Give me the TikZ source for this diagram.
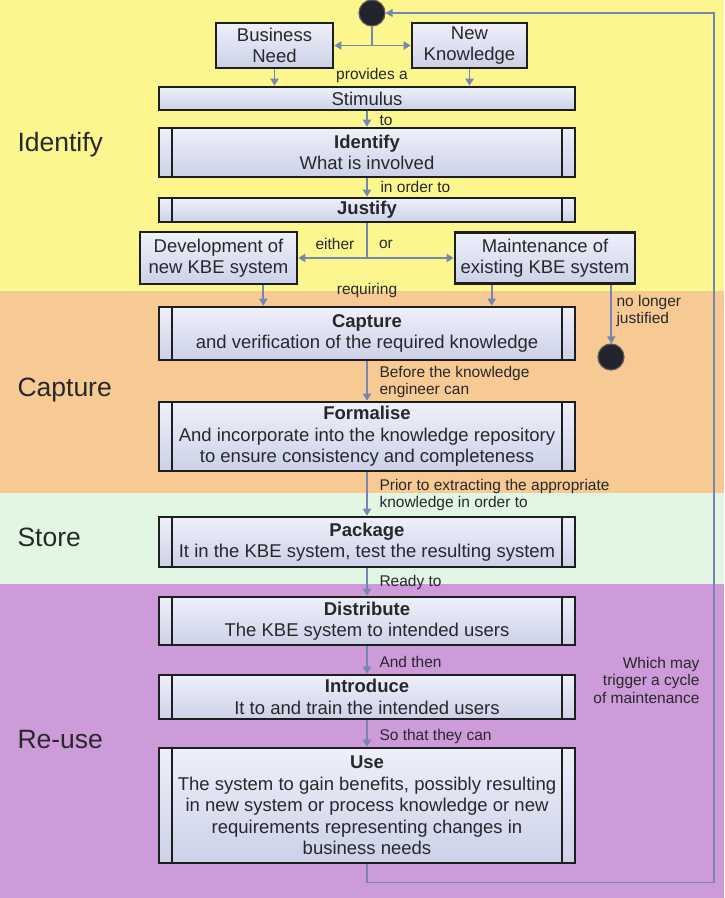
\documentclass[tikz,border=0pt]{standalone}
\usepackage{fontspec}
\setmainfont{Liberation Sans}
\usepackage{xcolor}
\usepackage{tikz}
\usetikzlibrary{arrows.meta}

\definecolor{bandyellow}{RGB}{251,246,142}
\definecolor{bandorange}{RGB}{247,202,148}
\definecolor{bandgreen}{RGB}{226,246,228}
\definecolor{bandpurple}{RGB}{205,155,217}
\definecolor{flowblue}{RGB}{118,134,178}
\definecolor{boxedge}{RGB}{30,30,32}
\definecolor{boxtop}{RGB}{238,240,250}
\definecolor{boxbot}{RGB}{204,209,231}
\definecolor{ink}{RGB}{40,40,44}
\definecolor{dotfill}{RGB}{35,35,45}

\begin{document}
\begin{tikzpicture}[x=1pt, y=-1pt, line width=0.4pt,
  act/.style={draw=boxedge, line width=2.6pt, top color=boxtop, bottom color=boxbot,
    minimum width=416pt, inner sep=2pt, align=center, text=ink,
    font=\fontsize{18.5}{21.5}\selectfont},
  flow/.style={draw=flowblue, line width=1.8pt, -{Triangle[width=8pt,length=7pt]}},
  note/.style={font=\fontsize{15.5}{17.5}\selectfont, text=ink, align=left},
  phase/.style={font=\fontsize{26.5}{30}\selectfont, text=ink, anchor=west},
  dot/.style={circle, fill=dotfill, draw=gray!70!black, line width=1.2pt, minimum size=26pt, inner sep=0pt}]
  \useasboundingbox (0,0) rectangle (724,898);
  % phase bands
  \fill[bandyellow] (0,0) rectangle (724,291);
  \fill[bandorange] (0,291) rectangle (724,493);
  \fill[bandgreen]  (0,493) rectangle (724,584);
  \fill[bandpurple] (0,584) rectangle (724,898);
  \foreach \y/\l in {145/Identify, 390/Capture, 537/Store, 740/Re-use}
    \node[phase] (ph\l) at (14,\y) {\l};

  % start and triggers
  \node[dot] (start) at (372,13) {};
  \node[act, minimum width=117pt, minimum height=45pt] (business) at (274.5,45.5) {Business\\Need};
  \node[act, minimum width=115pt, minimum height=45pt] (newk) at (469.5,45.5) {New\\Knowledge};
  \node[act, minimum height=23pt] (stimulus) at (367,98.5) {Stimulus};

  % activities
  \node[act, minimum height=49pt] (identify) at (367,152.5) {\textbf{Identify}\\What is involved};
  \node[act, minimum height=24pt] (justify) at (367,210) {\textbf{Justify}};
  \node[act, minimum width=157pt, minimum height=52pt] (dev) at (218.5,258) {Development of\\new KBE system};
  \node[act, minimum width=180pt, minimum height=51pt] (maint) at (545,258) {Maintenance of\\existing KBE system};
  \node[act, minimum height=53pt] (capture) at (367,333.5) {\textbf{Capture}\\and verification of the required knowledge};
  \node[act, minimum height=69pt] (formalise) at (367,436.5) {\textbf{Formalise}\\And incorporate into the knowledge repository\\to ensure consistency and completeness};
  \node[act, minimum height=50pt] (package) at (367,542) {\textbf{Package}\\It in the KBE system, test the resulting system};
  \node[act, minimum height=48pt] (distribute) at (367,621) {\textbf{Distribute}\\The KBE system to intended users};
  \node[act, minimum height=44pt] (introduce) at (367,697) {\textbf{Introduce}\\It to and train the intended users};
  \node[act, minimum height=115pt] (use) at (367,805.5) {\textbf{Use}\\The system to gain benefits, possibly resulting\\in new system or process knowledge or new\\requirements representing changes in\\business needs};
  \node[dot] (stop) at (611,357) {};

  % double bars on the activity boxes
  \foreach \n in {identify,justify,capture,formalise,package,distribute,introduce,use}
    \draw[boxedge, line width=2pt] ([xshift=14pt]\n.north west) -- ([xshift=14pt]\n.south west)
      ([xshift=-14pt]\n.north east) -- ([xshift=-14pt]\n.south east);

  % connectors
  \coordinate (split) at (372,45.5);
  \draw[flow, -] (start.south) -- (split);
  \draw[flow] (split) -- (business.east);
  \draw[flow] (split) -- (newk.west);
  \draw[flow] (business.south) -- (business.south |- stimulus.north);
  \draw[flow] (newk.south) -- (newk.south |- stimulus.north);
  \draw[flow] (stimulus) -- (identify);
  \draw[flow] (identify) -- (justify);
  \coordinate (fork) at (367,258);
  \draw[flow, -] (justify.south) -- (fork);
  \draw[flow] (fork) -- (dev.east);
  \draw[flow] (fork) -- (maint.west);
  \coordinate (devout) at ([xshift=-35pt]dev.south east);
  \coordinate (maintout) at ([xshift=38pt]maint.south west);
  \coordinate (quitout) at ([xshift=-25pt]maint.south east);
  \draw[flow] (devout) -- (devout |- capture.north);
  \draw[flow] (maintout) -- (maintout |- capture.north);
  \draw[flow] (quitout) -- (quitout |- stop.north);
  \foreach \a/\b in {capture/formalise, formalise/package, package/distribute,
                     distribute/introduce, introduce/use}
    \draw[flow] (\a) -- (\b);
  % cycle of maintenance
  \coordinate (ret) at (714,13);
  \draw[flow, line width=1.4pt] (use.south) -- ++(0,18) -| (ret) -- (start.east);

  % connector texts
  \node[note] (lprov) at (372,75) {provides a};
  \node[note, anchor=west] (lto) at (376,121) {to};
  \node[note, anchor=west] (lorder) at (377,187) {in order to};
  \node[note] (leither) at (335,244) {either};
  \node[note] (lor) at (386,244) {or};
  \node[note] (lreq) at (367,290) {requiring};
  \node[note, anchor=west] (lquit) at (613,311) {no longer\\justified};
  \node[note, anchor=west] (lbefore) at (376,382) {Before the knowledge\\engineer can};
  \node[note, anchor=west] (lprior) at (376,495) {Prior to extracting the appropriate\\knowledge in order to};
  \node[note, anchor=west] (lready) at (376,582) {Ready to};
  \node[note, anchor=west] (lthen) at (376,662) {And then};
  \node[note, anchor=west] (lcan) at (376,736) {So that they can};
  \node[note, anchor=east, align=right] (lcycle) at (703,680) {Which may\\trigger a cycle\\of maintenance};
\end{tikzpicture}
\end{document}
